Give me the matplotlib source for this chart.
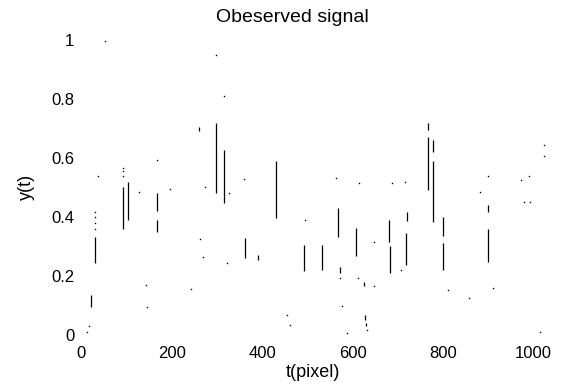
import numpy as np
import matplotlib.pyplot as plt

plt.rcParams['font.family'] = ['Liberation Sans', 'DejaVu Sans']

# vertical runs of the observed signal: pixel, low y, high y
seg_x  = [22, 31, 93, 104, 168, 168, 259, 298, 315, 361, 391, 431, 493, 531,
          568, 571, 607, 624, 628, 630, 681, 682, 717, 720, 766, 766, 778, 778,
          800, 800, 900, 900]
seg_lo = [0.096, 0.243, 0.36, 0.39, 0.35, 0.42, 0.69, 0.48, 0.446, 0.26, 0.255, 0.395, 0.215, 0.22,
          0.333, 0.21, 0.266, 0.164, 0.05, 0.03, 0.316, 0.21, 0.237, 0.387, 0.49, 0.695, 0.384, 0.62,
          0.335, 0.22, 0.418, 0.248]
seg_hi = [0.136, 0.333, 0.50, 0.52, 0.39, 0.48, 0.705, 0.718, 0.627, 0.328, 0.27, 0.588, 0.305, 0.305,
          0.43, 0.23, 0.362, 0.18, 0.068, 0.04, 0.39, 0.30, 0.345, 0.415, 0.672, 0.72, 0.59, 0.66,
          0.40, 0.31, 0.44, 0.358]

# isolated samples
dot_x = [12, 17, 37, 52, 128, 143, 145, 197, 243, 262, 270, 274, 298, 315, 323, 327, 359,
         455, 462, 495, 563, 571, 576, 587, 613, 611, 631, 648, 648, 686, 706, 716,
         811, 857, 882, 899, 911, 972, 990, 979, 992, 1013, 1022, 1022,
         31, 31, 31, 31, 93, 93, 93, 168]
dot_y = [0.011, 0.03, 0.54, 0.995, 0.486, 0.17, 0.096, 0.494, 0.156, 0.325, 0.265, 0.503, 0.95, 0.81, 0.244, 0.48, 0.53,
         0.068, 0.034, 0.39, 0.531, 0.192, 0.098, 0.005, 0.514, 0.193, 0.017, 0.316, 0.164, 0.514, 0.22, 0.517,
         0.152, 0.124, 0.486, 0.54, 0.158, 0.525, 0.537, 0.449, 0.45, 0.011, 0.605, 0.644,
         0.36, 0.38, 0.40, 0.418, 0.54, 0.555, 0.565, 0.593]

fig = plt.figure(figsize=(5.69, 3.88), dpi=100)
ax = fig.add_axes([0.143, 0.137, 0.814, 0.760])

ax.vlines(seg_x, seg_lo, seg_hi, colors='black', linewidth=0.9)
ax.plot(dot_x, dot_y, 'o', color='black', markersize=1.1, markeredgewidth=0)

ax.set_xlim(0, 1024)
ax.set_ylim(0, 1)
ax.set_xticks([0, 200, 400, 600, 800, 1000])
ax.set_yticks([0, 0.2, 0.4, 0.6, 0.8, 1])
ax.set_yticklabels(['0', '0.2', '0.4', '0.6', '0.8', '1'])
for s in ax.spines.values():
    s.set_visible(False)
ax.tick_params(length=0, labelsize=12)
ax.tick_params(axis='x', pad=8)
ax.tick_params(axis='y', pad=5)

fig.text(292/569, 1 - 17/388, 'Obeserved signal', fontsize=14, ha='center', va='center')
ax.set_xlabel('t(pixel)', fontsize=13, labelpad=2)
ax.set_ylabel('y(t)', fontsize=13, labelpad=12)

fig.savefig('out.png', dpi=100)
